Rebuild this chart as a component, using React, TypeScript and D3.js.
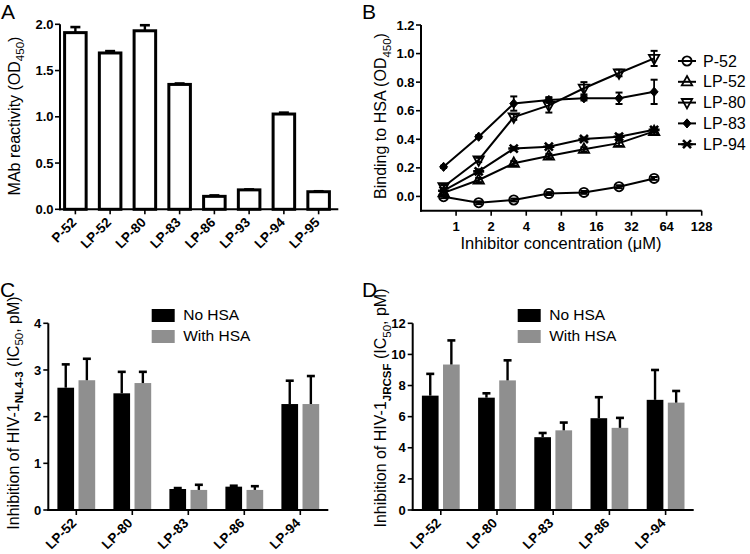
import React from 'react';
import * as d3 from 'd3';

// ---------- Panel A data ----------
const aCategories = ['P-52', 'LP-52', 'LP-80', 'LP-83', 'LP-86', 'LP-93', 'LP-94', 'LP-95'];
const aValues = [1.91, 1.69, 1.93, 1.35, 0.14, 0.21, 1.03, 0.19];
const aErrors = [0.06, 0.02, 0.06, 0.01, 0.01, 0.005, 0.015, 0.005];
const aTicks = [0, 0.5, 1.0, 1.5, 2.0];

// ---------- Panel B data ----------
const bConcentrations = [0.78125, 1.5625, 3.125, 6.25, 12.5, 25, 50];
const bXTicks = [1, 2, 4, 8, 16, 32, 64, 128];
const bYTicks = [0, 0.2, 0.4, 0.6, 0.8, 1.0, 1.2];
const bNames = ['P-52', 'LP-52', 'LP-80', 'LP-83', 'LP-94'];
const bP52 = [-0.002, -0.044, -0.025, 0.02, 0.028, 0.068, 0.126];
const bP52Err = [0.01, 0.01, 0.01, 0.01, 0.01, 0.01, 0.01];
const bLP52 = [0.025, 0.115, 0.232, 0.283, 0.33, 0.373, 0.455];
const bLP52Err = [0.01, 0.015, 0.015, 0.015, 0.015, 0.02, 0.02];
const bLP80 = [0.068, 0.255, 0.556, 0.637, 0.757, 0.864, 0.966];
const bLP80Err = [0.012, 0.015, 0.02, 0.05, 0.043, 0.023, 0.053];
const bLP83 = [0.207, 0.418, 0.65, 0.675, 0.687, 0.687, 0.732];
const bLP83Err = [0.008, 0.01, 0.05, 0.02, 0.015, 0.04, 0.085];
const bLP94 = [0.04, 0.175, 0.335, 0.348, 0.402, 0.418, 0.466];
const bLP94Err = [0.01, 0.015, 0.012, 0.01, 0.01, 0.015, 0.015];

// ---------- Panel C / D data ----------
const cdCategories = ['LP-52', 'LP-80', 'LP-83', 'LP-86', 'LP-94'];
const cdGroups = ['No HSA', 'With HSA'];
const cNoHSA = [2.62, 2.5, 0.45, 0.5, 2.27];
const cNoHSAErr = [0.5, 0.46, 0.02, 0.02, 0.5];
const cWithHSA = [2.78, 2.72, 0.43, 0.43, 2.27];
const cWithHSAErr = [0.46, 0.24, 0.11, 0.08, 0.6];
const cTicks = [0, 1, 2, 3, 4];
const dNoHSA = [7.35, 7.22, 4.68, 5.9, 7.08];
const dNoHSAErr = [1.4, 0.28, 0.27, 1.35, 1.92];
const dWithHSA = [9.35, 8.33, 5.12, 5.28, 6.9];
const dWithHSAErr = [1.55, 1.29, 0.5, 0.64, 0.75];
const dTicks = [0, 2, 4, 6, 8, 10, 12];

const FONT = "'Liberation Sans', Arial, Helvetica, sans-serif";
const GRAY = '#8f8f8f';

type Marker = 'circle' | 'up' | 'down' | 'diamond' | 'star';
const bMarkers: Marker[] = ['circle', 'up', 'down', 'diamond', 'star'];

function MarkerShape({ type, x, y }: { type: Marker; x: number; y: number }) {
  const t = `translate(${x},${y})`;
  if (type === 'circle') return <circle transform={t} r={4.6} fill="none" stroke="#000" strokeWidth={1.8} />;
  if (type === 'up') return <path transform={t} d="M0,-5.8L5.2,3.6L-5.2,3.6Z" fill="none" stroke="#000" strokeWidth={1.8} />;
  if (type === 'down') return <path transform={t} d="M0,5.8L5.2,-3.6L-5.2,-3.6Z" fill="none" stroke="#000" strokeWidth={1.8} />;
  if (type === 'diamond') return <path transform={t} d="M0,-4.6L4,0L0,4.6L-4,0Z" fill="#000" stroke="#000" strokeWidth={1} />;
  return (
    <path transform={t} d="M-5.5,0H5.5M-4,-4L4,4M-4,4L4,-4" fill="none" stroke="#000" strokeWidth={2.6} />
  );
}

function YTitle({ x, y, parts }: { x: number; y: number; parts: { t: string; sub?: boolean; bold?: boolean }[] }) {
  return (
    <text transform={`translate(${x},${y}) rotate(-90)`} textAnchor="middle" fontFamily={FONT} fontSize={16} fill="#000">
      {parts.map((p, i) => {
        const prevSub = i > 0 && parts[i - 1].sub;
        const dy = p.sub ? 4.5 : prevSub ? -4.5 : 0;
        return (
          <tspan key={i} dy={dy} fontSize={p.sub ? 11.5 : 16} fontWeight={p.bold ? 'bold' : 'normal'}>
            {p.t}
          </tspan>
        );
      })}
    </text>
  );
}

function GroupedBars({
  x0, x1, yTop, yBottom, max, ticks, noV, noE, withV, withE, legendX,
}: {
  x0: number; x1: number; yTop: number; yBottom: number; max: number; ticks: number[];
  noV: number[]; noE: number[]; withV: number[]; withE: number[]; legendX: number;
}) {
  const x = d3.scaleBand<string>().domain(cdCategories).range([x0, x1]);
  const inner = d3.scaleBand<string>().domain(cdGroups).range([-18.9, 18.9]).paddingInner(0.21);
  const y = d3.scaleLinear().domain([0, max]).range([yBottom, yTop]);
  const series = [
    { key: cdGroups[0], vals: noV, errs: noE, color: '#000' },
    { key: cdGroups[1], vals: withV, errs: withE, color: GRAY },
  ];
  return (
    <g>
      {series.map((s) =>
        cdCategories.map((c, i) => {
          const cx = (x(c) as number) + x.bandwidth() / 2;
          const bx = cx + (inner(s.key) as number);
          const bw = inner.bandwidth();
          const top = y(s.vals[i]);
          const et = y(s.vals[i] + s.errs[i]);
          const mid = bx + bw / 2;
          return (
            <g key={s.key + c}>
              <rect x={bx} y={top} width={bw} height={yBottom - top} fill={s.color} />
              <line x1={mid} x2={mid} y1={top} y2={et} stroke="#000" strokeWidth={2.4} />
              <line x1={mid - 4} x2={mid + 4} y1={et} y2={et} stroke="#000" strokeWidth={2.6} />
            </g>
          );
        })
      )}
      {/* axes */}
      <line x1={x0} x2={x0} y1={y(max)} y2={yBottom + 1} stroke="#000" strokeWidth={2} />
      <line x1={x0 - 1} x2={x1} y1={yBottom} y2={yBottom} stroke="#000" strokeWidth={2} />
      {ticks.map((t) => (
        <g key={t}>
          <line x1={x0 - 5} x2={x0} y1={y(t)} y2={y(t)} stroke="#000" strokeWidth={1.6} />
          <text x={x0 - 7} y={y(t)} dy="0.35em" textAnchor="end" fontFamily={FONT} fontSize={13} fontWeight="bold">
            {t}
          </text>
        </g>
      ))}
      {cdCategories.map((c) => {
        const cx = (x(c) as number) + x.bandwidth() / 2;
        return (
          <g key={c}>
            <line x1={cx} x2={cx} y1={yBottom} y2={yBottom + 5} stroke="#000" strokeWidth={1.6} />
            <text
              transform={`translate(${cx + 1},${yBottom + 14}) rotate(-45)`}
              textAnchor="end"
              fontFamily={FONT}
              fontSize={13.5}
              fontWeight="bold"
            >
              {c}
            </text>
          </g>
        );
      })}
      {/* legend */}
      {series.map((s, i) => (
        <g key={'lg' + s.key} transform={`translate(${legendX},${309 + i * 21})`}>
          <rect x={0} y={0} width={23} height={13} fill={s.color} />
          <text x={31.5} y={11} fontFamily={FONT} fontSize={15.5}>
            {s.key}
          </text>
        </g>
      ))}
    </g>
  );
}

export default function App() {
  // Panel A
  const aX = d3.scaleBand<string>().domain(aCategories).range([58, 336]).paddingInner(0.38).paddingOuter(0.19);
  const aY = d3.scaleLinear().domain([0, 2]).range([209.3, 24.3]);
  const aBase = aY(0);

  // Panel B
  const bX = d3.scaleLog().base(2).domain([0.5, 128]).range([421, 701.7]);
  const bY = d3.scaleLinear().domain([-0.1, 1.2]).range([210.7, 25]);
  const bSeries = [
    { name: bNames[0], vals: bP52, errs: bP52Err, m: bMarkers[0] },
    { name: bNames[1], vals: bLP52, errs: bLP52Err, m: bMarkers[1] },
    { name: bNames[2], vals: bLP80, errs: bLP80Err, m: bMarkers[2] },
    { name: bNames[3], vals: bLP83, errs: bLP83Err, m: bMarkers[3] },
    { name: bNames[4], vals: bLP94, errs: bLP94Err, m: bMarkers[4] },
  ];
  const line = d3
    .line<number>()
    .x((_, i) => bX(bConcentrations[i]))
    .y((d) => bY(d));

  return (
    <svg
      width={750}
      height={554}
      viewBox="0 0 750 554"
      style={{ position: 'absolute', left: 0, top: 0, background: '#fff' }}
      fontFamily={FONT}
    >
      <rect x={0} y={0} width={750} height={554} fill="#fff" />
      {/* Panel letters */}
      <text x={1} y={18.5} fontSize={21} fontFamily={FONT}>A</text>
      <text x={362} y={18.5} fontSize={21} fontFamily={FONT}>B</text>
      <text x={0} y={297} fontSize={21} fontFamily={FONT}>C</text>
      <text x={362} y={297} fontSize={21} fontFamily={FONT}>D</text>

      {/* ---------------- Panel A ---------------- */}
      <g>
        {aCategories.map((c, i) => {
          const bx = aX(c) as number;
          const bw = aX.bandwidth();
          const top = aY(aValues[i]);
          const et = aY(aValues[i] + aErrors[i]);
          const mid = bx + bw / 2;
          return (
            <g key={c}>
              <line x1={mid} x2={mid} y1={top} y2={et} stroke="#000" strokeWidth={2.4} />
              <line x1={mid - 5} x2={mid + 5} y1={et} y2={et} stroke="#000" strokeWidth={2.6} />
              <rect x={bx} y={top} width={bw} height={aBase - top} fill="#fff" stroke="#000" strokeWidth={3} />
            </g>
          );
        })}
        <line x1={60} x2={60} y1={aY(2)} y2={aBase + 1} stroke="#000" strokeWidth={2} />
        <line x1={59} x2={338.3} y1={aBase} y2={aBase} stroke="#000" strokeWidth={2} />
        {aTicks.map((t) => (
          <g key={t}>
            <line x1={55} x2={60} y1={aY(t)} y2={aY(t)} stroke="#000" strokeWidth={1.6} />
            <text x={53.5} y={aY(t)} dy="0.35em" textAnchor="end" fontSize={13} fontWeight="bold" fontFamily={FONT}>
              {t.toFixed(1)}
            </text>
          </g>
        ))}
        {aCategories.map((c) => {
          const cx = (aX(c) as number) + aX.bandwidth() / 2;
          return (
            <g key={'t' + c}>
              <line x1={cx} x2={cx} y1={aBase} y2={aBase + 5} stroke="#000" strokeWidth={1.6} />
              <text
                transform={`translate(${cx + 2},${aBase + 14}) rotate(-45)`}
                textAnchor="end"
                fontSize={13.5}
                fontWeight="bold"
                fontFamily={FONT}
              >
                {c}
              </text>
            </g>
          );
        })}
        <YTitle x={19.5} y={116} parts={[{ t: 'MAb reactivity (OD' }, { t: '450', sub: true }, { t: ')' }]} />
      </g>

      {/* ---------------- Panel B ---------------- */}
      <g>
        {bSeries.map((s) => (
          <path key={'l' + s.name} d={line(s.vals) || ''} fill="none" stroke="#000" strokeWidth={2} />
        ))}
        {bSeries.map((s) =>
          s.vals.map((v, i) => {
            const cx = bX(bConcentrations[i]);
            const t = bY(v + s.errs[i]);
            const b = bY(v - s.errs[i]);
            return (
              <g key={'e' + s.name + i}>
                <line x1={cx} x2={cx} y1={t} y2={b} stroke="#000" strokeWidth={1.8} />
                <line x1={cx - 3.5} x2={cx + 3.5} y1={t} y2={t} stroke="#000" strokeWidth={2} />
                <line x1={cx - 3.5} x2={cx + 3.5} y1={b} y2={b} stroke="#000" strokeWidth={2} />
              </g>
            );
          })
        )}
        {bSeries.map((s) =>
          s.vals.map((v, i) => <MarkerShape key={'m' + s.name + i} type={s.m} x={bX(bConcentrations[i])} y={bY(v)} />)
        )}
        <line x1={421} x2={421} y1={bY(1.2)} y2={bY(-0.1) + 1} stroke="#000" strokeWidth={2} />
        <line x1={420} x2={701.7} y1={bY(-0.1)} y2={bY(-0.1)} stroke="#000" strokeWidth={2} />
        {bYTicks.map((t) => (
          <g key={t}>
            <line x1={416} x2={421} y1={bY(t)} y2={bY(t)} stroke="#000" strokeWidth={1.6} />
            <text x={414.5} y={bY(t)} dy="0.35em" textAnchor="end" fontSize={13} fontWeight="bold" fontFamily={FONT}>
              {t.toFixed(1)}
            </text>
          </g>
        ))}
        {bXTicks.map((t) => (
          <g key={t}>
            <line x1={bX(t)} x2={bX(t)} y1={bY(-0.1)} y2={bY(-0.1) + 5} stroke="#000" strokeWidth={1.6} />
            <text x={bX(t)} y={230.5} textAnchor="middle" fontSize={13} fontWeight="bold" fontFamily={FONT}>
              {t}
            </text>
          </g>
        ))}
        <text x={561} y={249} textAnchor="middle" fontSize={16.5} fontFamily={FONT}>
          Inhibitor concentration (μM)
        </text>
        <YTitle x={386} y={116} parts={[{ t: 'Binding to HSA (OD' }, { t: '450', sub: true }, { t: ')' }]} />
        {bSeries.map((s, i) => {
          const yy = 61 + i * 20.8;
          return (
            <g key={'lg' + s.name}>
              <line x1={678} x2={696} y1={yy} y2={yy} stroke="#000" strokeWidth={2} />
              <MarkerShape type={s.m} x={687} y={yy} />
              <text x={703} y={yy + 5.5} fontSize={16} fontFamily={FONT}>
                {s.name}
              </text>
            </g>
          );
        })}
      </g>

      {/* ---------------- Panel C ---------------- */}
      <GroupedBars
        x0={48.3}
        x1={328.3}
        yTop={323.3}
        yBottom={510}
        max={4}
        ticks={cTicks}
        noV={cNoHSA}
        noE={cNoHSAErr}
        withV={cWithHSA}
        withE={cWithHSAErr}
        legendX={151.7}
      />
      <YTitle
        x={18.5}
        y={413}
        parts={[
          { t: 'Inhibition of HIV-1' },
          { t: 'NL4-3', sub: true, bold: true },
          { t: ' (IC' },
          { t: '50', sub: true },
          { t: ', pM)' },
        ]}
      />

      {/* ---------------- Panel D ---------------- */}
      <GroupedBars
        x0={412.7}
        x1={693.7}
        yTop={323.3}
        yBottom={510}
        max={12}
        ticks={dTicks}
        noV={dNoHSA}
        noE={dNoHSAErr}
        withV={dWithHSA}
        withE={dWithHSAErr}
        legendX={517.7}
      />
      <YTitle
        x={386}
        y={408}
        parts={[
          { t: 'Inhibition of HIV-1' },
          { t: 'JRCSF', sub: true, bold: true },
          { t: ' (IC' },
          { t: '50', sub: true },
          { t: ', pM)' },
        ]}
      />
    </svg>
  );
}
